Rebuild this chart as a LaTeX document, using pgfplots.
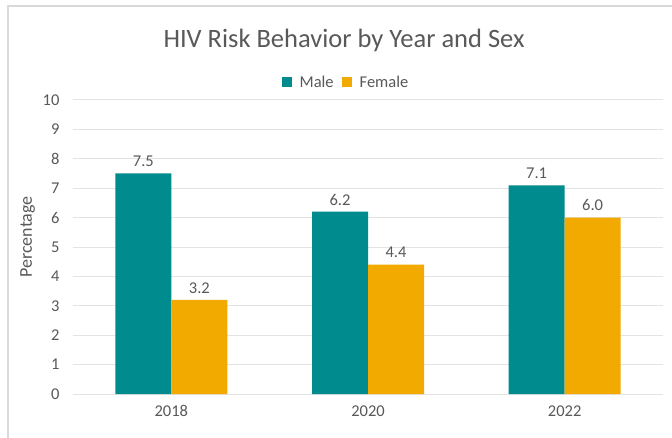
\documentclass[border=0pt]{standalone}
\usepackage{pgfplots}
\pgfplotsset{compat=1.18}
\usepackage{fontspec}
\setmainfont{Carlito}
\definecolor{teal1}{HTML}{008B8F}
\definecolor{gold1}{HTML}{F2A900}
\definecolor{txt}{HTML}{595959}
\definecolor{grid1}{HTML}{E3E3E3}
\begin{document}
\begin{tikzpicture}[x=1pt,y=1pt]
\useasboundingbox (0,0) rectangle (672,437);
\fill[white] (0,0) rectangle (672,437);
\draw[line width=1.5pt, draw=black!15] (8,-20) -- (8,431) -- (690,431);
\node[text=txt, font=\fontsize{26.5}{30}\selectfont] at (344,397) {HIV Risk Behavior by Year and Sex};
\begin{axis}[
  at={(73pt,43pt)}, anchor=south west,
  scale only axis, width=590pt, height=294pt,
  ybar=0pt, bar width=56pt,
  xmin=-0.5, xmax=2.5, ymin=0, ymax=10,
  xtick=data, xticklabels={2018,2020,2022},
  ytick={0,1,...,10},
  ymajorgrids, grid style={grid1, line width=1pt},
  axis line style={draw=none},
  major tick length=0pt,
  tick label style={text=txt, font=\fontsize{16.5}{18}\selectfont},
  /pgf/number format/assume math mode=true,
  yticklabel style={xshift=-10pt},
  xticklabel style={yshift=-8pt},
  ylabel={Percentage},
  ylabel style={text=txt, font=\fontsize{18}{20}\selectfont, yshift=1pt, xshift=10pt},
  nodes near coords,
  nodes near coords style={text=txt, font=\fontsize{16.5}{18}\selectfont,
    /pgf/number format/.cd, fixed, fixed zerofill, precision=1, assume math mode=true, /tikz/.cd, yshift=3pt},
  legend style={at={(0.5,1)}, anchor=south, xshift=-22pt, yshift=7pt, draw=none, fill=none,
    font=\fontsize{16.5}{18}\selectfont, text=txt, column sep=6pt},
  legend columns=2,
  legend image code/.code={\fill[#1] (0pt,-5pt) rectangle (10pt,5pt);},
]
\addplot[fill=teal1, draw=none] coordinates {(0,7.5) (1,6.2) (2,7.1)};
\addplot[fill=gold1, draw=none] coordinates {(0,3.2) (1,4.4) (2,6.0)};
\legend{Male,Female}
\end{axis}
\end{tikzpicture}
\end{document}
